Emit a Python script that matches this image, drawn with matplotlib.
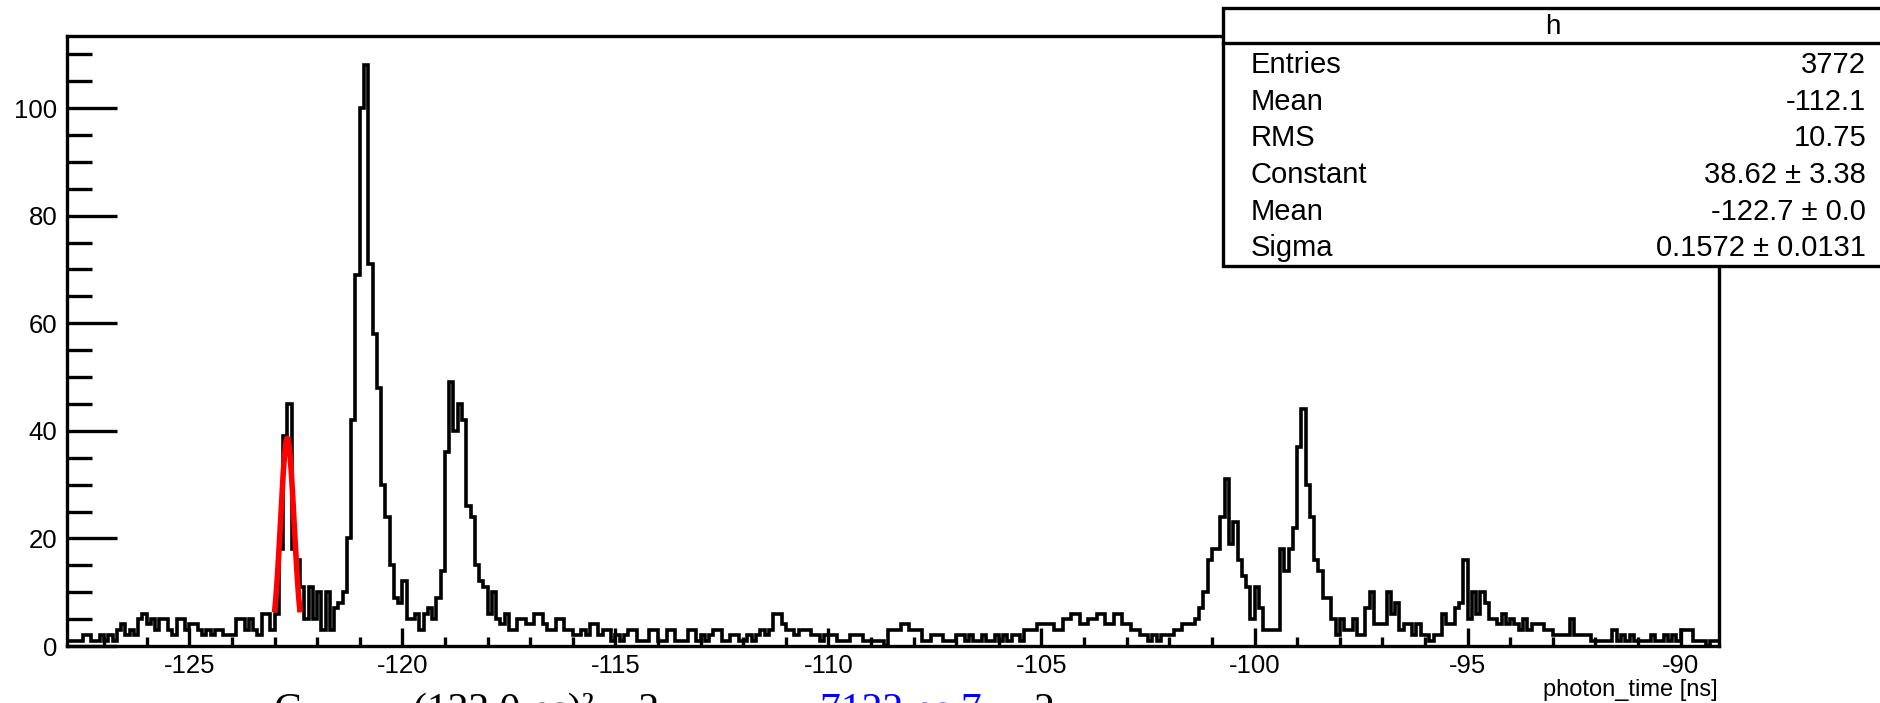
import numpy as np
import matplotlib
matplotlib.use("Agg")
import matplotlib.pyplot as plt
from matplotlib.patches import Rectangle
from matplotlib.lines import Line2D
from matplotlib.ticker import MultipleLocator

plt.rcParams['font.family'] = ['Liberation Sans', 'DejaVu Sans']
plt.rcParams['axes.unicode_minus'] = False

# photon_time histogram, 0.1 ns bins from -128 ns
bin_start = -128.0
bin_width = 0.1
counts = [
    0, 1, 1, 1, 1, 2, 2, 1, 1, 2,          # -128 .. -127
    1, 2, 1, 3, 4, 2, 3, 2, 5, 6,          # -127 .. -126
    4, 5, 3, 5, 5, 3, 2, 5, 5, 3,          # -126 .. -125
    4, 4, 3, 2, 3, 2, 3, 3, 2, 2,          # -125 .. -124
    2, 5, 5, 3, 5, 3, 2, 6, 6, 3,          # -124 .. -123
    6, 18, 39, 45, 18, 16, 11, 5, 11, 5,   # -123 .. -122
    10, 3, 10, 3, 7, 8, 10, 20, 42, 69,    # -122 .. -121
    100, 108, 71, 58, 48, 30, 24, 15, 9, 8,  # -121 .. -120
    12, 5, 5, 6, 3, 6, 7, 5, 9, 14,        # -120 .. -119
    36, 49, 40, 45, 42, 26, 24, 15, 12, 11,  # -119 .. -118
    6, 10, 5, 4, 6, 3, 3, 5, 5, 4,         # -118 .. -117
    4, 6, 6, 4, 3, 3, 5, 5, 3, 3,          # -117 .. -116
    2, 2, 3, 2, 4, 4, 2, 3, 3, 1,          # -116 .. -115
    2, 1, 2, 3, 3, 1, 1, 1, 3, 3,          # -115 .. -114
    1, 1, 3, 3, 1, 1, 1, 3, 3, 1,          # -114 .. -113
    2, 1, 2, 3, 3, 1, 1, 2, 2, 1,          # -113 .. -112
    1, 2, 1, 2, 3, 2, 3, 6, 6, 4,          # -112 .. -111
    3, 3, 2, 3, 3, 3, 2, 2, 1, 2,          # -111 .. -110
    2, 2, 1, 1, 1, 2, 2, 2, 1, 1,          # -110 .. -109
    1, 1, 1, 0, 3, 3, 3, 4, 4, 3,          # -109 .. -108
    3, 3, 1, 1, 2, 2, 2, 1, 1, 1,          # -108 .. -107
    2, 2, 1, 2, 1, 1, 2, 1, 1, 2,          # -107 .. -106
    1, 2, 1, 2, 2, 1, 3, 3, 3, 4,          # -106 .. -105
    4, 4, 4, 3, 3, 5, 5, 6, 6, 4,          # -105 .. -104
    4, 5, 5, 6, 6, 4, 4, 6, 6, 4,          # -104 .. -103
    4, 3, 3, 2, 2, 1, 2, 1, 2, 2,          # -103 .. -102
    2, 3, 3, 4, 4, 4, 5, 7, 10, 16,        # -102 .. -101
    18, 18, 24, 31, 19, 23, 16, 13, 11, 5,  # -101 .. -100
    11, 7, 3, 3, 3, 3, 18, 14, 18, 22,     # -100 .. -99
    37, 44, 30, 24, 16, 14, 9, 9, 5, 2,    # -99 .. -98
    5, 3, 3, 5, 2, 2, 7, 10, 4, 4,         # -98 .. -97
    4, 10, 6, 8, 3, 4, 4, 2, 4, 2,         # -97 .. -96
    2, 1, 2, 2, 6, 4, 4, 7, 8, 16,         # -96 .. -95
    5, 10, 6, 10, 8, 5, 5, 4, 6, 4,        # -95 .. -94
    5, 4, 3, 5, 3, 4, 4, 4, 3, 3,          # -94 .. -93
    2, 2, 2, 2, 5, 2, 2, 2, 2, 1,          # -93 .. -92
    1, 1, 1, 1, 3, 1, 2, 1, 2, 1,          # -92 .. -91
    1, 1, 1, 2, 1, 1, 2, 1, 2, 1,          # -91 .. -90
    3, 3, 3, 1, 1, 1, 0, 1, 1, 1,          # -90 .. -89
]
edges = bin_start + bin_width * np.arange(len(counts) + 1)

# gaussian fit result shown in the stats box
fit_const, fit_mean, fit_sigma = 38.62, -122.7, 0.1572
fit_range = (-123.0, -122.4)

stat_names = ['Entries', 'Mean', 'RMS', 'Constant', 'Mean', 'Sigma']
stat_values = ['3772', '-112.1', '10.75', '38.62 \u00b1 3.38', '-122.7 \u00b1 0.0', '0.1572 \u00b1 0.0131']

# caption under the plot (only its upper edge fits on the canvas)
caption_parts = [('C', 'black', 273), ('(122.0 ps)\u00b2 \u2212 2', 'black', 413),
                 ('7122 ps 7', 'blue', 820), ('2', 'black', 1033)]

W, H = 1880, 703
fig = plt.figure(figsize=(W / 100, H / 100), dpi=100)
ax = fig.add_axes([67 / W, 1 - 646 / H, (1719 - 67) / W, (646 - 36) / H])

ax.stairs(counts, edges, color='black', linewidth=2.6, baseline=None)

xf = np.linspace(*fit_range, 200)
yf = fit_const * np.exp(-0.5 * ((xf - fit_mean) / fit_sigma) ** 2)
ax.plot(xf, yf, color='red', linewidth=4, solid_capstyle='butt')

ax.set_xlim(-127.87, -89.1)
ax.set_ylim(0, 113.4)

ax.xaxis.set_major_locator(MultipleLocator(5))
ax.xaxis.set_minor_locator(MultipleLocator(1))
ax.yaxis.set_major_locator(MultipleLocator(20))
ax.yaxis.set_minor_locator(MultipleLocator(5))
ax.tick_params(axis='both', which='both', direction='in', width=2.4,
               top=False, right=False, labelsize=18.5)
ax.tick_params(axis='y', which='major', length=36, pad=7)
ax.tick_params(axis='y', which='minor', length=18)
ax.tick_params(axis='x', which='major', length=13, pad=6)
ax.tick_params(axis='x', which='minor', length=6.5)
for s in ax.spines.values():
    s.set_linewidth(2.4)

fig.text(1718 / W, 1 - 690 / H, 'photon_time [ns]', ha='right', va='center', fontsize=17)

# stats box
def fx(px):
    return px / W

def fy(py):
    return 1 - py / H

box_l, box_r, box_t, box_b, head_y = 1223, 1885, 8, 266, 43
fig.add_artist(Rectangle((fx(box_l), fy(box_b)), fx(box_r - box_l), (box_b - box_t) / H,
                         transform=fig.transFigure, facecolor='white',
                         edgecolor='black', linewidth=2.4, zorder=5))
fig.add_artist(Line2D([fx(box_l), fx(box_r)], [fy(head_y), fy(head_y)],
                      transform=fig.transFigure, color='black', linewidth=2.4, zorder=6))
fig.text(fx(1553), fy(27), 'h', ha='center', va='center', fontsize=20, zorder=7)
row_y = 65
for name, val in zip(stat_names, stat_values):
    fig.text(fx(1251), fy(row_y), name, ha='left', va='center', fontsize=21, zorder=7)
    fig.text(fx(1866), fy(row_y), val, ha='right', va='center', fontsize=21, zorder=7)
    row_y += 36.7

for txt, col, xpx in caption_parts:
    fig.text(fx(xpx), fy(722), txt, ha='left', va='baseline', color=col,
             fontsize=30, family='Liberation Serif')

fig.savefig('out.png', dpi=100)
